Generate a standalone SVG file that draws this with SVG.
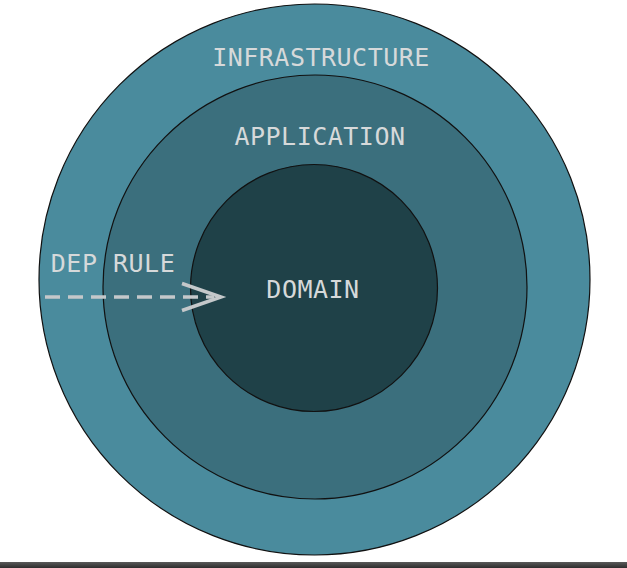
<svg xmlns="http://www.w3.org/2000/svg" width="627" height="568" viewBox="0 0 627 568">
<defs>
<style>
.ring{stroke:#111;stroke-width:1.2}
.lbl{font-family:"DejaVu Sans Mono","Liberation Mono",monospace;font-size:25px;fill:#d6d9da;text-anchor:middle;letter-spacing:0.5px}
.dep{fill:none;stroke:#c4c8ca;stroke-width:3.5}
</style>
<linearGradient id="bar" x1="0" y1="0" x2="0" y2="1">
<stop offset="0" stop-color="#5a5a5a"/>
<stop offset="1" stop-color="#2e2e2e"/>
</linearGradient>
</defs>
<rect width="627" height="568" fill="#ffffff"/>
<g id="infrastructure">
<circle class="ring" cx="314.5" cy="279.5" r="275.5" fill="#4a8b9d"/>
<text class="lbl" x="321" y="66">INFRASTRUCTURE</text>
</g>
<g id="application">
<circle class="ring" cx="315" cy="287" r="212" fill="#3b6f7d"/>
<text class="lbl" x="320" y="145">APPLICATION</text>
</g>
<g id="domain">
<circle class="ring" cx="314" cy="288" r="123.5" fill="#1f4148"/>
<text class="lbl" x="313" y="298">DOMAIN</text>
</g>
<g id="connectors">
<text class="lbl" x="113" y="272">DEP RULE</text>
<line class="dep" x1="45" y1="297" x2="214" y2="297" stroke-dasharray="15 8"/>
<polyline class="dep" points="182,283.5 221,297 182,310.5"/>
</g>
<rect x="0" y="562" width="627" height="6" fill="url(#bar)"/>
</svg>
